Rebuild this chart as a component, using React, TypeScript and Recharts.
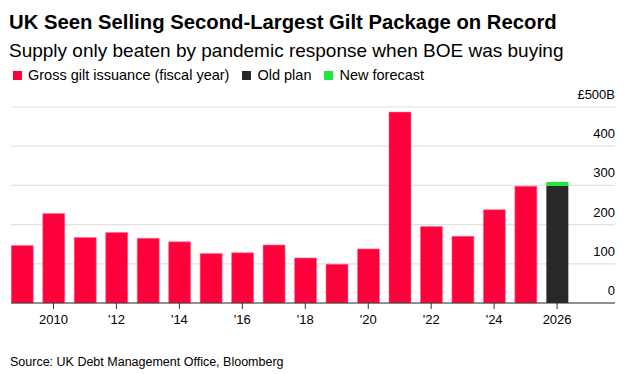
import React from "react";
import { BarChart, Bar, XAxis, YAxis, CartesianGrid } from "recharts";

const years = [2009, 2010, 2011, 2012, 2013, 2014, 2015, 2016, 2017, 2018, 2019, 2020, 2021, 2022, 2023, 2024, 2025, 2026];
const issuance = [147, 228, 167, 180, 165, 156, 126, 128, 148, 115, 99, 138, 487, 195, 170, 238, 298, null];
const oldPlan = [null, null, null, null, null, null, null, null, null, null, null, null, null, null, null, null, null, 299];
const newForecastAdd = [null, null, null, null, null, null, null, null, null, null, null, null, null, null, null, null, null, 10];
const yTicks = [0, 100, 200, 300, 400, 500];
const xTicks = [2010, 2012, 2014, 2016, 2018, 2020, 2022, 2024, 2026];
const legendItems = ["Gross gilt issuance (fiscal year)", "Old plan", "New forecast"];

const RED = "#ff003b";
const DARK = "#282828";
const GREEN = "#1ee83a";
const legendColors = [RED, DARK, GREEN];

const data = years.map((y, i) => ({
  year: y,
  issuance: issuance[i],
  oldPlan: oldPlan[i],
  add: newForecastAdd[i],
}));

const FONT = "'Liberation Sans', Arial, sans-serif";

const YTick = (props: any) => {
  const { y, payload } = props;
  const label = payload.value === 500 ? "£500B" : String(payload.value);
  return (
    <text x={615} y={y - 8} textAnchor="end" fontSize={13} fill="#000" fontFamily={FONT}>
      {label}
    </text>
  );
};

const xFmt = (v: number) => (v === 2010 || v === 2026 ? String(v) : "'" + String(v).slice(2));

const Legend = () => (
  <div style={{ position: "absolute", left: 13, top: 67, display: "flex", alignItems: "center", fontSize: 14.5, fontFamily: FONT, color: "#000", whiteSpace: "nowrap" }}>
    {legendItems.map((t, i) => (
      <div key={i} style={{ display: "flex", alignItems: "center", marginRight: 13 }}>
        <div style={{ width: 9, height: 9, background: legendColors[i], marginRight: 6, marginTop: 1 }} />
        <span>{t}</span>
      </div>
    ))}
  </div>
);

export default function App() {
  return (
    <div style={{ position: "absolute", left: 0, top: 0, width: 637, height: 374, background: "#fff", overflow: "hidden" }}>
      <div style={{ position: "absolute", left: 9, top: 10.6, fontSize: 20.3, fontWeight: 700, fontFamily: FONT, color: "#000", whiteSpace: "nowrap" }}>
        UK Seen Selling Second-Largest Gilt Package on Record
      </div>
      <div style={{ position: "absolute", left: 9, top: 40, fontSize: 19, fontFamily: FONT, color: "#000", whiteSpace: "nowrap" }}>
        Supply only beaten by pandemic response when BOE was buying
      </div>
      <Legend />
      <div style={{ position: "absolute", left: 0, top: 0 }}>
        <BarChart width={637} height={374} data={data} margin={{ top: 107, right: 22, bottom: 41, left: 11 }}>
          <CartesianGrid vertical={false} stroke="#e2e2e2" strokeWidth={1.2} />
          <XAxis
            dataKey="year"
            type="number"
            domain={[2008.65, 2027.84]}
            allowDataOverflow
            ticks={xTicks}
            tickFormatter={xFmt}
            height={30}
            tickSize={6}
            tickMargin={6}
            stroke="#333"
            tick={{ fontSize: 13, fill: "#000", fontFamily: FONT }}
          />
          <YAxis
            orientation="right"
            mirror
            domain={[0, 500]}
            ticks={yTicks}
            axisLine={false}
            tickLine={false}
            tick={<YTick />}
          />
          <Bar dataKey="issuance" stackId="a" fill={RED} stroke="#ff6f8e" strokeWidth={0.6} barSize={22} isAnimationActive={false} />
          <Bar dataKey="oldPlan" stackId="a" fill={DARK} barSize={22} isAnimationActive={false} />
          <Bar dataKey="add" stackId="a" fill={GREEN} barSize={22} isAnimationActive={false} />
        </BarChart>
      </div>
      <div style={{ position: "absolute", left: 10, top: 354.7, fontSize: 12.5, fontFamily: FONT, color: "#000", whiteSpace: "nowrap" }}>
        Source: UK Debt Management Office, Bloomberg
      </div>
    </div>
  );
}
